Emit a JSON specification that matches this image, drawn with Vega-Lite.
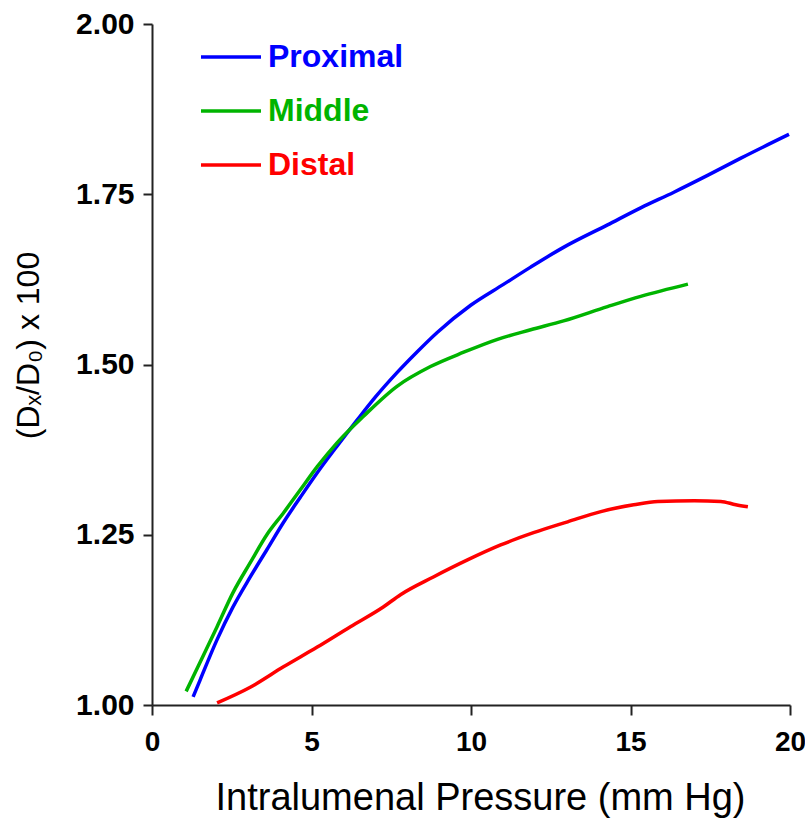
{
  "$schema": "https://vega.github.io/schema/vega-lite/v6.json",
  "autosize": {"type": "none"},
  "padding": {"left": 152, "top": 24, "right": 15, "bottom": 115},
  "width": 638,
  "height": 681,
  "background": "white",
  "config": {
    "view": {"stroke": null},
    "font": "Liberation Sans",
    "axis": {
      "domainColor": "#222222",
      "domainWidth": 2,
      "tickColor": "#222222",
      "tickWidth": 2,
      "grid": false,
      "labelColor": "#000000",
      "titleColor": "#000000",
      "labelFont": "Liberation Sans",
      "titleFont": "Liberation Sans",
      "labelFontWeight": "bold",
      "titleFontWeight": "normal"
    }
  },
  "data": {
    "values": [
      {"segment": "Proximal", "pressure": 1.29, "ratio": 1.012},
      {"segment": "Proximal", "pressure": 1.51, "ratio": 1.037},
      {"segment": "Proximal", "pressure": 2.04, "ratio": 1.096},
      {"segment": "Proximal", "pressure": 2.54, "ratio": 1.144},
      {"segment": "Proximal", "pressure": 3.08, "ratio": 1.188},
      {"segment": "Proximal", "pressure": 3.6, "ratio": 1.228},
      {"segment": "Proximal", "pressure": 4.12, "ratio": 1.268},
      {"segment": "Proximal", "pressure": 4.65, "ratio": 1.305},
      {"segment": "Proximal", "pressure": 5.18, "ratio": 1.341},
      {"segment": "Proximal", "pressure": 5.8, "ratio": 1.38},
      {"segment": "Proximal", "pressure": 6.44, "ratio": 1.419},
      {"segment": "Proximal", "pressure": 7.0, "ratio": 1.452},
      {"segment": "Proximal", "pressure": 7.68, "ratio": 1.488},
      {"segment": "Proximal", "pressure": 8.3, "ratio": 1.518},
      {"segment": "Proximal", "pressure": 8.94, "ratio": 1.547},
      {"segment": "Proximal", "pressure": 9.99, "ratio": 1.587},
      {"segment": "Proximal", "pressure": 11.03, "ratio": 1.618},
      {"segment": "Proximal", "pressure": 11.87, "ratio": 1.643},
      {"segment": "Proximal", "pressure": 12.9, "ratio": 1.672},
      {"segment": "Proximal", "pressure": 14.28, "ratio": 1.705},
      {"segment": "Proximal", "pressure": 15.32, "ratio": 1.73},
      {"segment": "Proximal", "pressure": 16.36, "ratio": 1.753},
      {"segment": "Proximal", "pressure": 17.43, "ratio": 1.778},
      {"segment": "Proximal", "pressure": 18.46, "ratio": 1.803},
      {"segment": "Proximal", "pressure": 19.97, "ratio": 1.838},

      {"segment": "Middle", "pressure": 1.07, "ratio": 1.02},
      {"segment": "Middle", "pressure": 1.5, "ratio": 1.062},
      {"segment": "Middle", "pressure": 2.04, "ratio": 1.115},
      {"segment": "Middle", "pressure": 2.54, "ratio": 1.165},
      {"segment": "Middle", "pressure": 3.08, "ratio": 1.209},
      {"segment": "Middle", "pressure": 3.6, "ratio": 1.25},
      {"segment": "Middle", "pressure": 4.12, "ratio": 1.282},
      {"segment": "Middle", "pressure": 4.65, "ratio": 1.316},
      {"segment": "Middle", "pressure": 5.18, "ratio": 1.35},
      {"segment": "Middle", "pressure": 5.8, "ratio": 1.385},
      {"segment": "Middle", "pressure": 6.63, "ratio": 1.424},
      {"segment": "Middle", "pressure": 7.68, "ratio": 1.468},
      {"segment": "Middle", "pressure": 8.73, "ratio": 1.497},
      {"segment": "Middle", "pressure": 9.77, "ratio": 1.518},
      {"segment": "Middle", "pressure": 10.83, "ratio": 1.537},
      {"segment": "Middle", "pressure": 11.87, "ratio": 1.551},
      {"segment": "Middle", "pressure": 12.9, "ratio": 1.564},
      {"segment": "Middle", "pressure": 14.28, "ratio": 1.585},
      {"segment": "Middle", "pressure": 15.32, "ratio": 1.6},
      {"segment": "Middle", "pressure": 16.8, "ratio": 1.618},

      {"segment": "Distal", "pressure": 2.04, "ratio": 1.003},
      {"segment": "Distal", "pressure": 3.08, "ratio": 1.026},
      {"segment": "Distal", "pressure": 4.12, "ratio": 1.056},
      {"segment": "Distal", "pressure": 5.18, "ratio": 1.085},
      {"segment": "Distal", "pressure": 6.22, "ratio": 1.115},
      {"segment": "Distal", "pressure": 7.25, "ratio": 1.144},
      {"segment": "Distal", "pressure": 7.79, "ratio": 1.162},
      {"segment": "Distal", "pressure": 8.82, "ratio": 1.188},
      {"segment": "Distal", "pressure": 9.89, "ratio": 1.213},
      {"segment": "Distal", "pressure": 10.93, "ratio": 1.235},
      {"segment": "Distal", "pressure": 11.96, "ratio": 1.253},
      {"segment": "Distal", "pressure": 13.03, "ratio": 1.269},
      {"segment": "Distal", "pressure": 14.07, "ratio": 1.284},
      {"segment": "Distal", "pressure": 15.1, "ratio": 1.294},
      {"segment": "Distal", "pressure": 15.86, "ratio": 1.299},
      {"segment": "Distal", "pressure": 17.0, "ratio": 1.3},
      {"segment": "Distal", "pressure": 17.83, "ratio": 1.299},
      {"segment": "Distal", "pressure": 18.3, "ratio": 1.294},
      {"segment": "Distal", "pressure": 18.68, "ratio": 1.291}
    ]
  },
  "mark": {"type": "line", "strokeWidth": 3.5, "interpolate": "monotone"},
  "encoding": {
    "x": {
      "field": "pressure",
      "type": "quantitative",
      "scale": {"domain": [0, 20], "nice": false, "zero": false},
      "axis": {
        "values": [0, 5, 10, 15, 20],
        "title": "Intralumenal Pressure (mm Hg)",
        "titleFontSize": 38,
        "titlePadding": 23,
        "titleX": 328,
        "labelFontSize": 28,
        "tickSize": 10,
        "labelPadding": 13,
        "labelFlush": false
      }
    },
    "y": {
      "field": "ratio",
      "type": "quantitative",
      "scale": {"domain": [1, 2], "nice": false, "zero": false},
      "axis": {
        "values": [1, 1.25, 1.5, 1.75, 2],
        "format": ".2f",
        "title": "(Dₓ/D₀) x 100",
        "titleFontSize": 32,
        "titlePadding": 30,
        "titleY": 321,
        "labelFontSize": 30,
        "tickSize": 9,
        "labelPadding": 9
      }
    },
    "color": {
      "field": "segment",
      "type": "nominal",
      "sort": ["Proximal", "Middle", "Distal"],
      "scale": {
        "domain": ["Proximal", "Middle", "Distal"],
        "range": ["#0000ff", "#00b400", "#ff0000"]
      },
      "legend": {
        "title": null,
        "orient": "none",
        "legendX": 47,
        "legendY": 1,
        "padding": 0,
        "symbolType": "stroke",
        "symbolSize": 3600,
        "symbolStrokeWidth": 3.5,
        "rowPadding": 6,
        "labelOffset": 5,
        "labelFontSize": 32,
        "labelFontWeight": "bold",
        "labelFont": "Liberation Sans",
        "labelLimit": 400,
        "encode": {
          "labels": {"update": {"fill": {"scale": "color", "field": "value"}}}
        }
      }
    }
  }
}
